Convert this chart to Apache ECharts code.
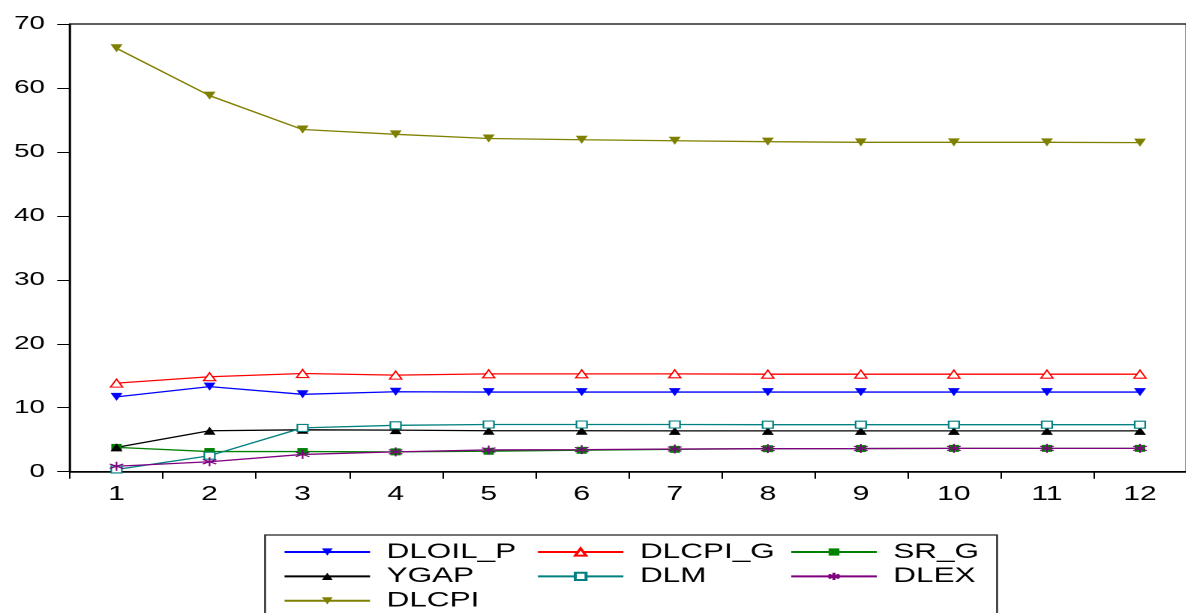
<!DOCTYPE html>
<html>
<head>
<meta charset="utf-8">
<script src="https://cdn.jsdelivr.net/npm/echarts@6/dist/echarts.min.js"></script>
<style>
  html, body { margin: 0; padding: 0; background: #fff; overflow: hidden; }
  /* chart is laid out narrow and widened 1.5x, like the wide EViews export */
  #chart { width: 790.67px; height: 613px; transform: scaleX(1.5); transform-origin: 0 0; }
</style>
</head>
<body>
<div id="chart"></div>
<script>
// Horizons 1..12
const periods = ['1', '2', '3', '4', '5', '6', '7', '8', '9', '10', '11', '12'];

// Variance decomposition shares (%)
const dloilP = [11.7, 13.3, 12.1, 12.5, 12.45, 12.45, 12.45, 12.45, 12.45, 12.45, 12.45, 12.45];
const dlcpiG = [13.85, 14.85, 15.35, 15.1, 15.3, 15.3, 15.3, 15.25, 15.25, 15.25, 15.25, 15.25];
const srG    = [3.8, 3.15, 3.15, 3.1, 3.2, 3.35, 3.5, 3.6, 3.62, 3.65, 3.65, 3.65];
const ygap   = [3.8, 6.4, 6.55, 6.5, 6.4, 6.4, 6.38, 6.38, 6.38, 6.38, 6.38, 6.38];
const dlm    = [0.35, 2.5, 6.85, 7.25, 7.38, 7.38, 7.38, 7.35, 7.35, 7.35, 7.35, 7.35];
const dlex   = [0.85, 1.55, 2.7, 3.1, 3.4, 3.45, 3.55, 3.6, 3.62, 3.65, 3.65, 3.65];
const dlcpi  = [66.2, 58.8, 53.5, 52.75, 52.1, 51.9, 51.75, 51.6, 51.5, 51.5, 51.5, 51.45];

const yTicks = { min: 0, max: 70, interval: 10 };

const FONT = 'Liberation Sans';
const asterisk = 'path://M5 0L5 10M0.7 2.5L9.3 7.5M0.7 7.5L9.3 2.5';

function lineSeries(name, data, color, symbol, opts) {
  opts = opts || {};
  return {
    name: name,
    type: 'line',
    data: data,
    symbol: symbol,
    symbolSize: opts.size || 8,
    symbolRotate: opts.rotate || 0,
    showAllSymbol: true,
    lineStyle: { color: color, width: 1.3 },
    itemStyle: {
      color: opts.hollow ? '#fff' : color,
      borderColor: color,
      borderWidth: opts.hollow || opts.stroke ? 1.1 : 0
    },
    emphasis: { disabled: true },
    animation: false
  };
}

const chart = echarts.init(document.getElementById('chart'), null, { devicePixelRatio: 2 });

chart.setOption({
  backgroundColor: '#fff',
  textStyle: { fontFamily: FONT },
  grid: {
    left: 46.67, right: -6, top: 24, bottom: 141.3,
    show: true, borderColor: '#000', borderWidth: 1.3,
    containLabel: false
  },
  xAxis: {
    type: 'category',
    data: periods,
    boundaryGap: true,
    axisLine: { lineStyle: { color: '#000', width: 1.6 } },
    axisTick: { show: true, inside: false, length: 7, lineStyle: { color: '#000', width: 1 } },
    axisLabel: { color: '#000', fontSize: 20, fontFamily: FONT, margin: 13 },
    splitLine: { show: false }
  },
  yAxis: {
    type: 'value',
    min: yTicks.min, max: yTicks.max, interval: yTicks.interval,
    axisLine: { show: true, lineStyle: { color: '#000', width: 1.3 } },
    axisTick: { show: true, inside: false, length: 8.5, lineStyle: { color: '#000', width: 1 } },
    axisLabel: { color: '#000', fontSize: 18.5, fontFamily: FONT, margin: 16.7 },
    splitLine: { show: false }
  },
  legend: {
    left: 188.7, top: 541, width: 520,
    orient: 'horizontal',
    itemWidth: 57, itemHeight: 9, itemGap: 2.4,
    padding: 0,
    selectedMode: false,
    textStyle: {
      color: '#000', fontSize: 21, fontFamily: FONT, lineHeight: 22,
      width: 97.5, padding: [0, 0, 0, 6]
    },
    data: ['DLOIL_P', 'DLCPI_G', 'SR_G', 'YGAP', 'DLM', 'DLEX', 'DLCPI']
  },
  graphic: [{
    type: 'rect',
    shape: { x: 176.7, y: 535, width: 488, height: 120 },
    style: { fill: 'none', stroke: '#222', lineWidth: 1.2 },
    silent: true
  }],
  series: [
    lineSeries('DLOIL_P', dloilP, '#0000ff', 'triangle', { rotate: 180 }),
    lineSeries('DLCPI_G', dlcpiG, '#ff0000', 'triangle', { hollow: true }),
    lineSeries('SR_G', srG, '#008000', 'rect', { size: 7 }),
    lineSeries('YGAP', ygap, '#000000', 'triangle'),
    lineSeries('DLM', dlm, '#008080', 'rect', { hollow: true, size: 7 }),
    lineSeries('DLEX', dlex, '#800080', asterisk, { stroke: true, size: 9 }),
    lineSeries('DLCPI', dlcpi, '#808000', 'triangle', { rotate: 180 })
  ]
});
</script>
</body>
</html>
